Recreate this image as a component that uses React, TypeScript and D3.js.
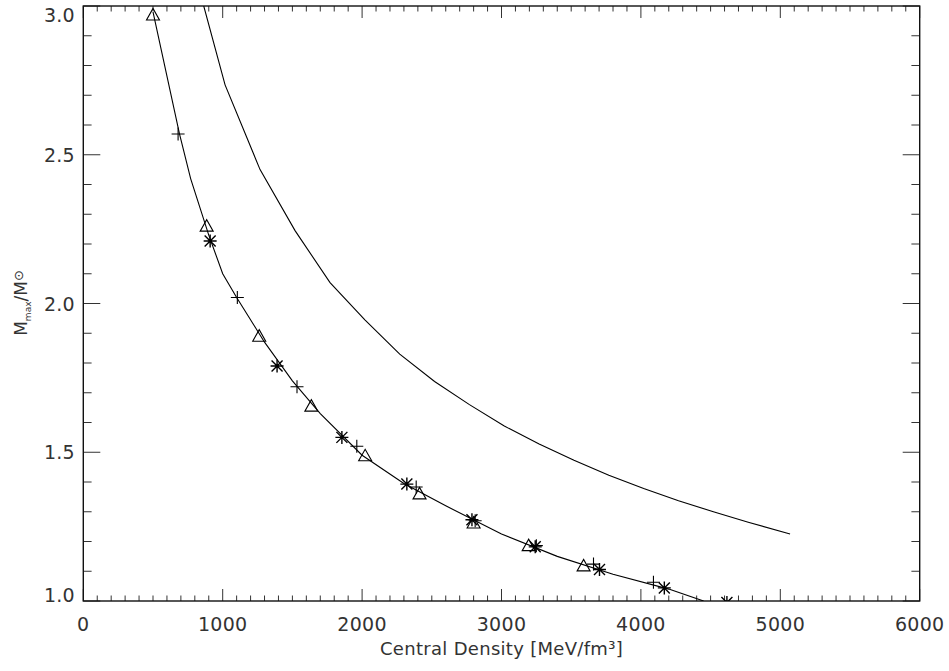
import React from "react";
import * as d3 from "d3";

// Lower curve (line) vertices
const lowerX = [500, 690, 770, 900, 1000, 1100, 1300, 1500, 1700, 2000, 2300, 2600, 3000, 3400, 3800, 4200, 4450];
const lowerY = [2.98, 2.57, 2.42, 2.23, 2.1, 2.02, 1.87, 1.74, 1.63, 1.49, 1.395, 1.32, 1.225, 1.15, 1.09, 1.04, 1.0];

// Upper curve vertices
const upperX = [864, 1017, 1268, 1519, 1770, 2020, 2270, 2520, 2770, 3020, 3270, 3520, 3770, 4020, 4270, 4520, 4770, 5070];
const upperY = [3.0, 2.735, 2.45, 2.245, 2.07, 1.945, 1.83, 1.738, 1.66, 1.588, 1.528, 1.473, 1.423, 1.378, 1.337, 1.3, 1.265, 1.225];

// Marker series
const triX = [500, 885, 1262, 1636, 2022, 2412, 2800, 3195, 3589];
const triY = [2.97, 2.26, 1.89, 1.655, 1.488, 1.36, 1.262, 1.186, 1.118];

const plusX = [680, 1105, 1533, 1962, 2388, 2811, 3250, 3660, 4090];
const plusY = [2.57, 2.02, 1.72, 1.52, 1.383, 1.27, 1.186, 1.124, 1.063];

const starX = [910, 1390, 1855, 2321, 2788, 3242, 3703, 4168, 4617];
const starY = [2.21, 1.79, 1.55, 1.393, 1.273, 1.182, 1.106, 1.044, 0.995];

const xTicks = [0, 1000, 2000, 3000, 4000, 5000, 6000];
const yTicks = [1.0, 1.5, 2.0, 2.5, 3.0];

export default function App() {
  const W = 949, H = 671;
  const L = 83.3, R = 919.7, T = 6, B = 601;
  const x = d3.scaleLinear().domain([0, 6000]).range([L, R]);
  const y = d3.scaleLinear().domain([1, 3]).range([B, T]);
  const line = d3.line<[number, number]>().x(d => x(d[0])).y(d => y(d[1]));
  const lower = line(lowerX.map((v, i) => [v, lowerY[i]] as [number, number])) || "";
  const upper = line(upperX.map((v, i) => [v, upperY[i]] as [number, number])) || "";

  const xMinor = d3.range(0, 6001, 100);
  const yMinor = d3.range(10, 31, 1).map(v => v / 10);
  const tickColor = "#333";
  const font = "'DejaVu Sans', sans-serif";

  return (
    <svg width={W} height={H} style={{ position: "absolute", left: 0, top: 0, background: "#fff" }}>
      <defs>
        <clipPath id="plotclip">
          <rect x={L} y={T} width={R - L} height={B - T} />
        </clipPath>
      </defs>
      <rect x={0} y={0} width={W} height={H} fill="#fff" />
      {/* ticks */}
      <g stroke={tickColor} strokeWidth={1}>
        {xMinor.map(v => {
          const major = v % 1000 === 0;
          const len = major ? 12 : 5.5;
          return (
            <g key={"xt" + v}>
              <line x1={x(v)} x2={x(v)} y1={B} y2={B - len} />
              <line x1={x(v)} x2={x(v)} y1={T} y2={T + len} />
            </g>
          );
        })}
        {yMinor.map(v => {
          const major = Math.round(v * 10) % 5 === 0;
          const len = major ? 17 : 8.3;
          return (
            <g key={"yt" + v}>
              <line x1={L} x2={L + len} y1={y(v)} y2={y(v)} />
              <line x1={R} x2={R - len} y1={y(v)} y2={y(v)} />
            </g>
          );
        })}
      </g>
      <rect x={L} y={T} width={R - L} height={B - T} fill="none" stroke="#111" strokeWidth={1.4} />
      {/* curves */}
      <g clipPath="url(#plotclip)" fill="none" stroke="#000" strokeWidth={1.1}>
        <path d={lower} />
        <path d={upper} />
        {triX.map((v, i) => {
          const cx = x(v), cy = y(triY[i]);
          return <path key={"tr" + i} d={`M${cx - 6.5},${cy + 5} L${cx + 6.5},${cy + 5} L${cx},${cy - 6.5} Z`} />;
        })}
        {plusX.map((v, i) => {
          const cx = x(v), cy = y(plusY[i]);
          return <path key={"pl" + i} d={`M${cx - 6.5},${cy} H${cx + 6.5} M${cx},${cy - 6.5} V${cy + 6.5}`} />;
        })}
        {starX.map((v, i) => {
          const cx = x(v), cy = y(starY[i]);
          const r = 6.5, d = 5.5;
          return (
            <path
              key={"st" + i}
              strokeWidth={1.4}
              d={`M${cx - r},${cy} H${cx + r} M${cx},${cy - r} V${cy + r} M${cx - d},${cy - d} L${cx + d},${cy + d} M${cx - d},${cy + d} L${cx + d},${cy - d}`}
            />
          );
        })}
      </g>
      {/* tick labels */}
      <g fontFamily={font} fontSize={19} fill="#333" letterSpacing={0.3}>
        {xTicks.map(v => (
          <text key={"xl" + v} x={x(v)} y={631} textAnchor="middle">{v}</text>
        ))}
        {yTicks.map(v => {
          const cy = Math.min(Math.max(y(v), T + 9), B - 6.5);
          return (
            <text key={"yl" + v} x={75} y={cy + 7} textAnchor="end">{v.toFixed(1)}</text>
          );
        })}
      </g>
      <text x={(L + R) / 2} y={655} textAnchor="middle" fontFamily={font} fontSize={18} fill="#333" letterSpacing={0.3}>
        Central Density [MeV/fm³]
      </text>
      <text transform="translate(27,303) rotate(-90)" textAnchor="middle" fontFamily={font} fontSize={17} fill="#333">
        M<tspan fontSize={9} dy={4}>max</tspan><tspan dy={-4}>/M</tspan><tspan fontSize={13} dy={-4}>⊙</tspan>
      </text>
    </svg>
  );
}
